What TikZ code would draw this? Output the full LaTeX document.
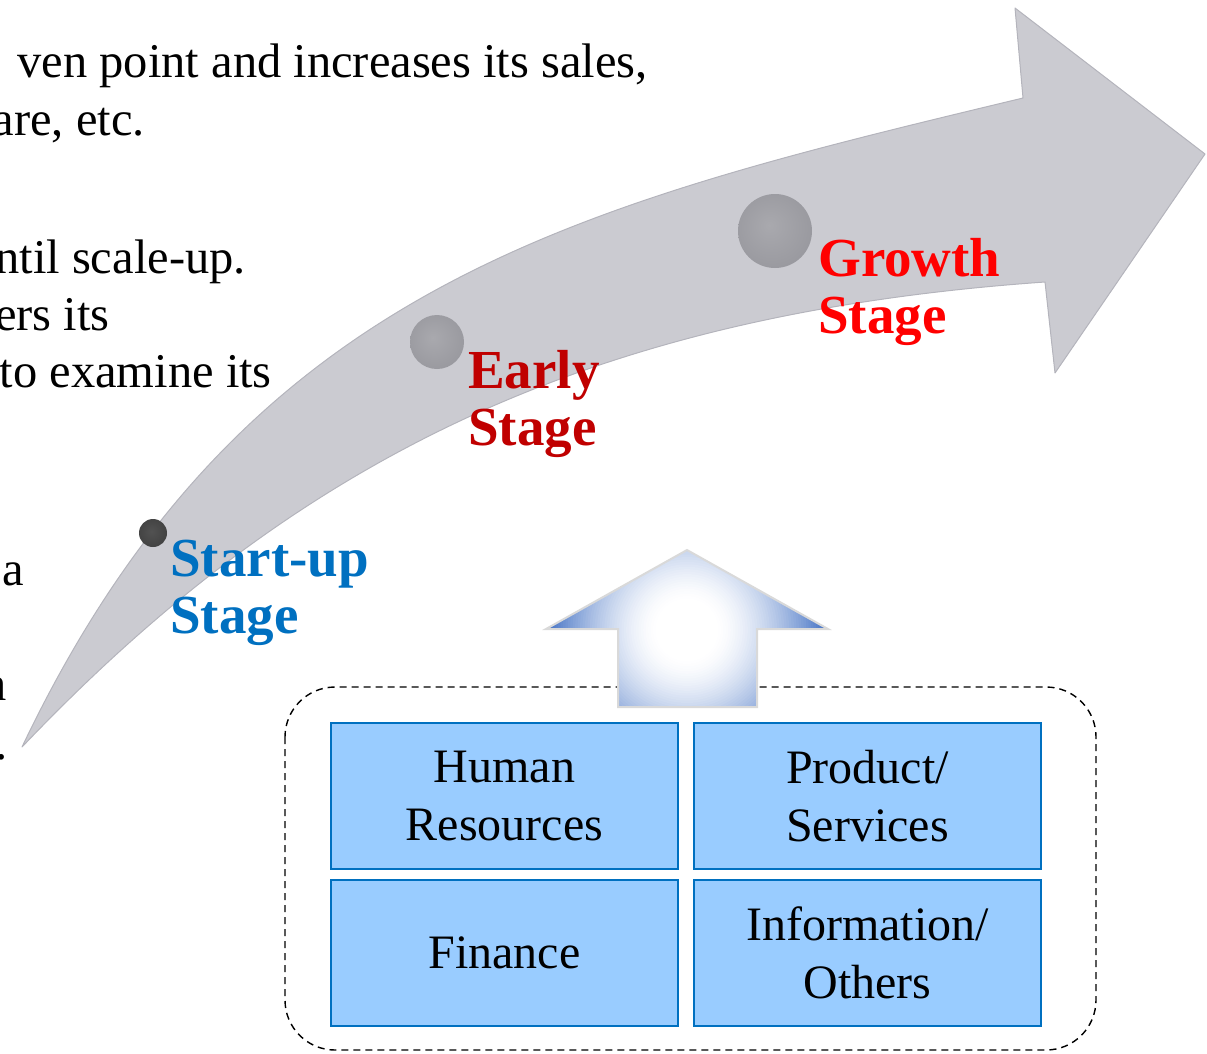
\documentclass[tikz,border=0pt]{standalone}
\usepackage{fontspec}
\setmainfont{Liberation Serif}
\definecolor{arrowgray}{HTML}{CBCBD1}
\definecolor{arrowedge}{HTML}{B4B4BC}
\definecolor{startblue}{HTML}{0070C0}
\definecolor{earlyred}{HTML}{C00000}
\definecolor{growthred}{HTML}{FF0000}
\definecolor{boxfill}{HTML}{99CCFF}
\definecolor{boxline}{HTML}{0070C0}
\definecolor{upblue}{HTML}{4472C4}
\definecolor{ballhi}{HTML}{A9A9AE}
\definecolor{ballmid}{HTML}{98989E}
\definecolor{balldark}{HTML}{808087}
\definecolor{ballrim}{HTML}{BDBDC3}
\pgfdeclareradialshading{ballgray}{\pgfpoint{-4bp}{4bp}}{color(0bp)=(ballhi); color(30bp)=(ballmid); color(43bp)=(ballmid); color(47bp)=(balldark); color(50bp)=(ballrim)}
\pgfdeclareradialshading{balldarkshade}{\pgfpoint{-3bp}{3bp}}{color(0bp)=(black!68); color(35bp)=(black!76); color(45bp)=(black!80); color(50bp)=(black!55)}
\begin{document}
\begin{tikzpicture}[x=1pt,y=-1pt,
  bodytext/.style={font=\fontsize{48.5}{58}\selectfont, inner sep=0pt, anchor=base east, text=black},
  stagelabel/.style={font=\fontsize{55}{57}\selectfont\bfseries, align=left, inner sep=0pt, anchor=north west},
  resbox/.style={draw=boxline, fill=boxfill, line width=2.5pt, minimum width=347pt, minimum height=146pt, align=center, font=\fontsize{48}{58}\selectfont, inner sep=0pt},
  container/.style={draw=black, dash pattern=on 7pt off 5pt, line width=1.4pt, rounded corners=50pt},
  dotball/.style={circle, inner sep=0pt, shading=ballgray},
]
\useasboundingbox (0,0) rectangle (1207,1053);
\clip (0,0) rectangle (1207,1053);

% left body text (cut off at the left margin)
\node[bodytext] (t1) at (648,77) {ven point and increases its sales,};
\node[bodytext] (t2) at (145,135) {are, etc.};
\node[bodytext] (t3) at (246,273) {ntil scale-up.};
\node[bodytext] (t4) at (110,330) {ers its};
\node[bodytext] (t5) at (272,387) {to examine its};
\node[bodytext] (t6) at (24,585) {a};
\node[bodytext] (t7) at (7,700) {n};
\node[bodytext] (t8) at (8,759) {.};

% big curved arrow
\path[fill=arrowgray, draw=arrowedge, line width=1pt, line join=round]
  (22,747) .. controls (242,285) and (573,206) .. (1023,98)
  -- (1015,8) -- (1205,154) -- (1055,373) -- (1045,282)
  .. controls (597,313.5) and (302,453) .. (22,747)
  -- cycle;

% stage dots
\node[circle, inner sep=0pt, minimum size=28pt, shading=balldarkshade] (startdot) at (153,533) {};
\node[dotball, minimum size=54pt] (earlydot) at (437,342) {};
\node[dotball, minimum size=74pt] (growthdot) at (775,231) {};

% stage labels
\node[stagelabel, text=startblue] (startlbl) at (170,540) {Start-up\\Stage};
\node[stagelabel, text=earlyred] (earlylbl) at (468,350.5) {Early\\Stage};
\node[stagelabel, text=growthred] (growthlbl) at (818,238.5) {Growth\\Stage};

% dashed container
\draw[container] (285,687) rectangle (1096,1050);

% upward block arrow with a radial white-to-blue gradient
\begin{scope}
  \clip (687,550) -- (828,629) -- (757,629) -- (757,707) -- (618,707) -- (618,629) -- (546,629) -- cycle;
  \foreach \k in {0,...,59}{
    \pgfmathsetmacro\rr{146*(1-\k/60)}
    \pgfmathsetmacro\pp{100*(max(0.001,(\rr/141-0.22)/0.78))^1.5}
    \pgfmathsetmacro\pq{min(100,\pp)}
    \fill[upblue!\pq!white] (687,630) circle (\rr);
  }
\end{scope}
\draw[draw=black!15, line width=2pt, line join=miter]
  (687,550) -- (828,629) -- (757,629) -- (757,707) -- (618,707) -- (618,629) -- (546,629) -- cycle;

% resource boxes
\node[resbox] (hr) at (504.5,796) {Human\\Resources};
\node[resbox] (ps) at (867.5,796) {Product/\\Services};
\node[resbox] (fin) at (504.5,953) {Finance};
\node[resbox] (info) at (867.5,953) {Information/\\Others};
\end{tikzpicture}
\end{document}
